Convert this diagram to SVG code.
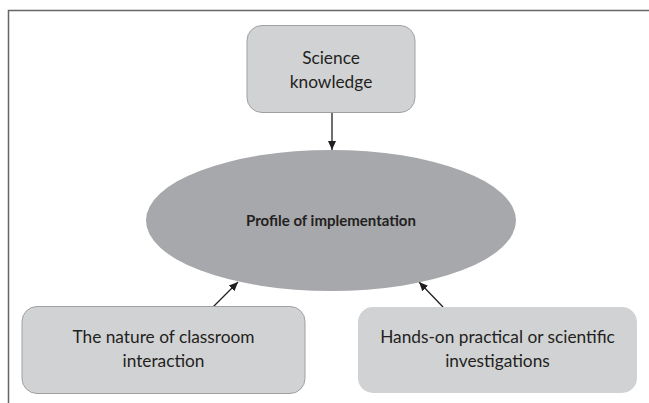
<svg xmlns="http://www.w3.org/2000/svg" width="649" height="403" viewBox="0 0 649 403">
<style>
.box{fill:#d1d2d4;stroke:#a0a0a3;stroke-width:1}
.t{font-family:Lato,"Open Sans",sans-serif;font-size:17.3px;fill:#231f20;text-anchor:middle}
.b{font-weight:bold;font-size:15px}
.c{stroke:#231f20;stroke-width:1.3;fill:none;marker-end:url(#ah)}
</style>
<defs>
<marker id="ah" markerWidth="10" markerHeight="10" refX="9" refY="5" orient="auto" markerUnits="userSpaceOnUse">
<path d="M0,1 L9,5 L0,9 Z" fill="#231f20"/>
</marker>
</defs>
<rect width="649" height="403" fill="#fff"/>
<path d="M8.5,403 V10.5 H649" fill="none" stroke="#666" stroke-width="1.5"/>
<g id="connectors">
<line class="c" x1="332" y1="113" x2="332" y2="150"/>
<line class="c" x1="213" y1="307" x2="238" y2="282"/>
<line class="c" x1="443" y1="307" x2="419" y2="282"/>
</g>
<g id="science">
<rect class="box" x="247" y="25.5" width="168" height="87" rx="15"/>
<text class="t" x="331" y="64">Science</text>
<text class="t" x="331" y="88">knowledge</text>
</g>
<g id="profile">
<ellipse cx="331" cy="220.5" rx="185" ry="70.5" fill="#a7a8ab"/>
<text class="t b" x="331" y="226">Profile of implementation</text>
</g>
<g id="classroom">
<rect class="box" x="22" y="306.5" width="283" height="87" rx="15"/>
<text class="t" x="163.5" y="343">The nature of classroom</text>
<text class="t" x="163.5" y="367">interaction</text>
</g>
<g id="handson">
<rect x="358" y="307" width="279" height="86" rx="15" fill="#d1d2d4"/>
<text class="t" x="497.5" y="343">Hands-on practical or scientific</text>
<text class="t" x="497.5" y="367">investigations</text>
</g>
</svg>
